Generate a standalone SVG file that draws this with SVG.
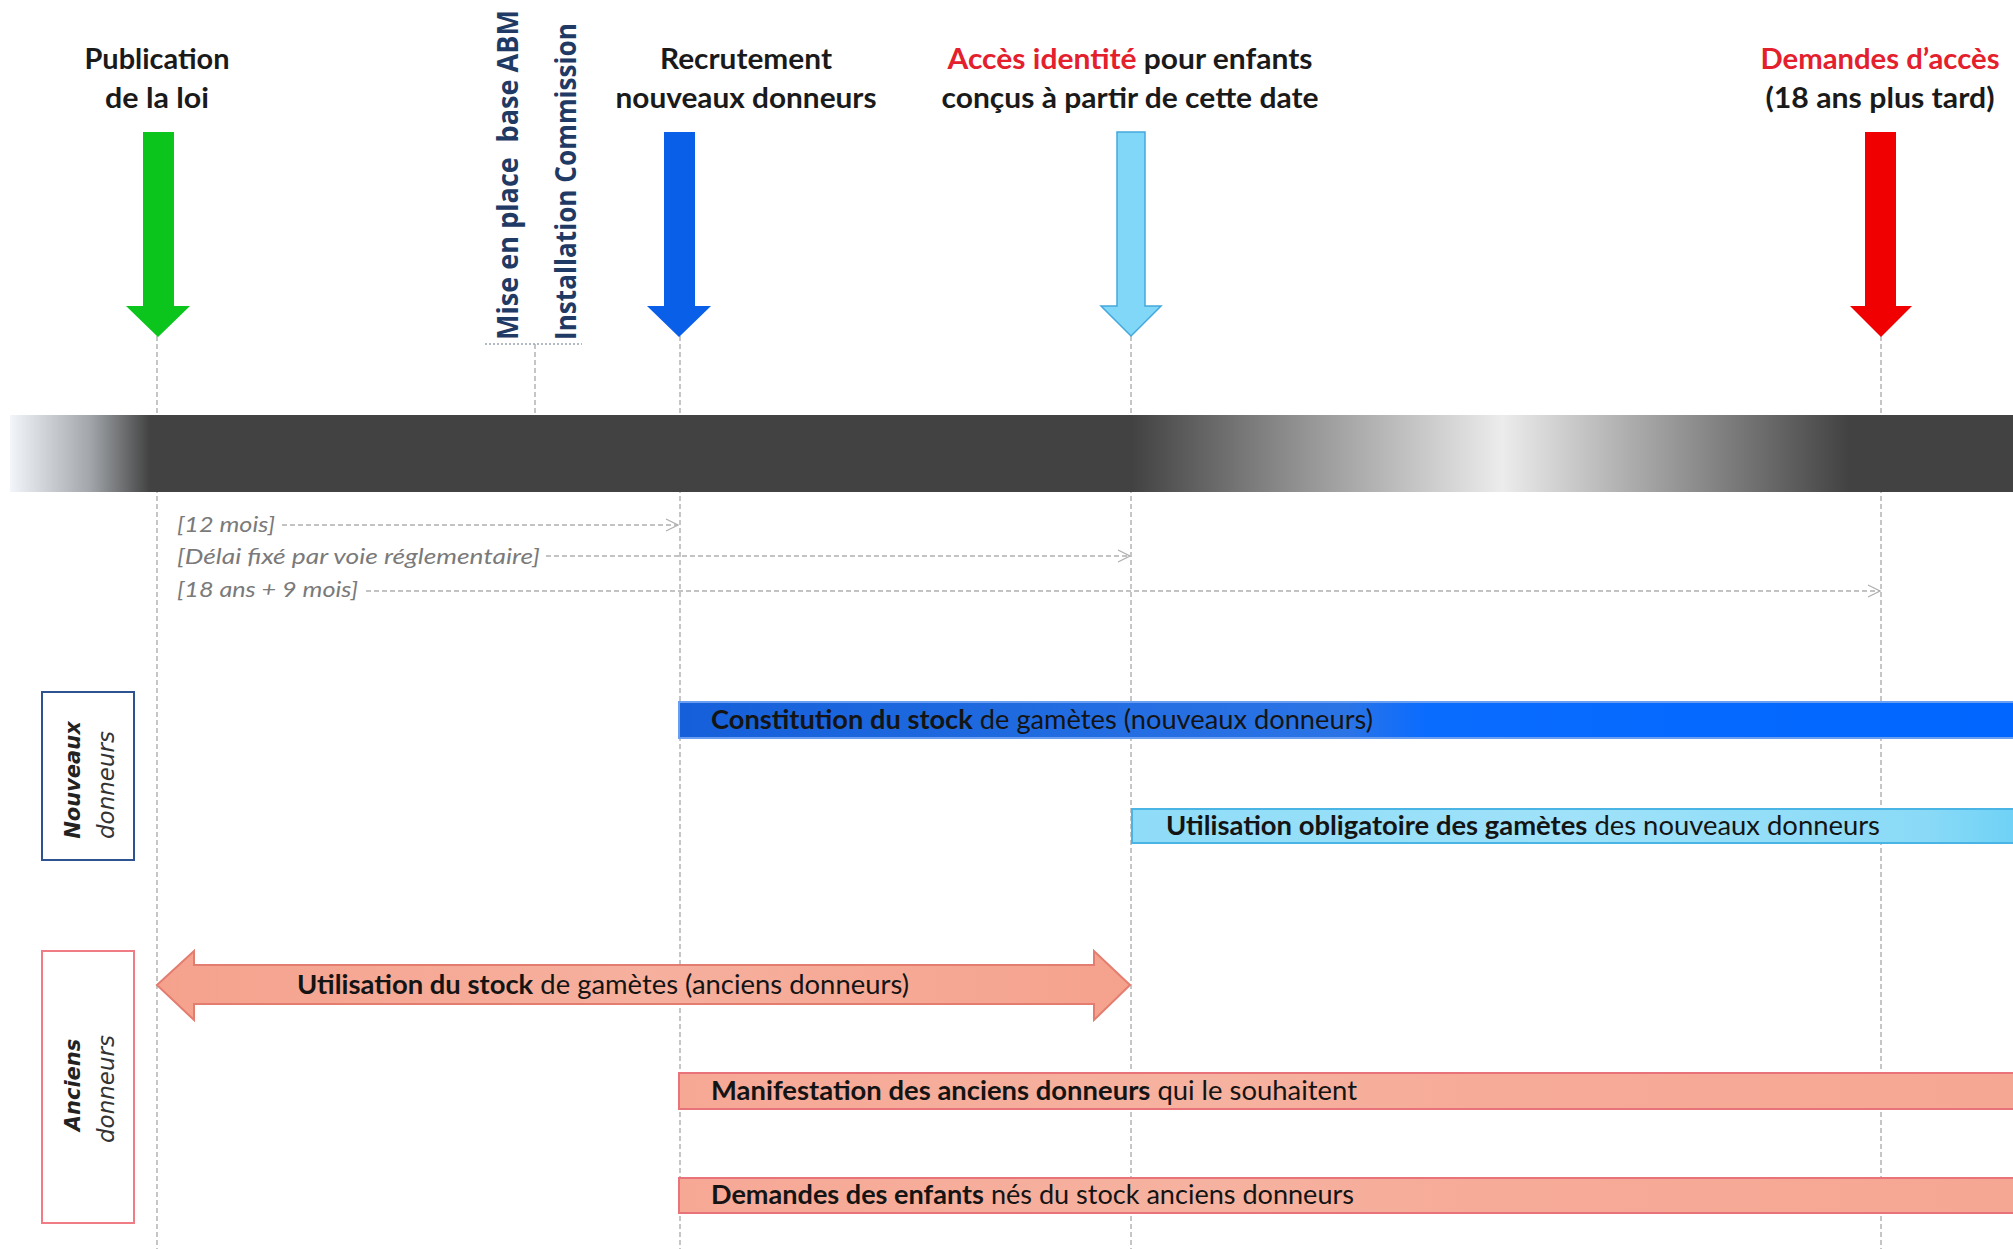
<svg xmlns="http://www.w3.org/2000/svg" width="2013" height="1249" viewBox="0 0 2013 1249">
<style>
.hdr{font-family:Lato,"Liberation Sans",sans-serif;font-weight:bold;font-size:29px;fill:#1a1a1a;text-anchor:middle}
.red{fill:#e4202c}
.vt{font-family:"Open Sans",Lato,sans-serif;font-weight:bold;font-size:28px;fill:#1f3a64}
.dl{font-family:Lato,"Liberation Sans",sans-serif;font-style:italic;font-size:22px;fill:#7a7a7a}
.bt{font-family:Lato,"Liberation Sans",sans-serif;font-size:26px;fill:#141414}
.bt tspan.b{font-weight:bold}
.lb{font-family:"DejaVu Sans",Verdana,sans-serif;font-size:21px;fill:#222;text-anchor:middle}
.lb2{font-family:"DejaVu Sans",Verdana,sans-serif;font-size:23px;fill:#333;text-anchor:middle;font-style:italic}
.guide{stroke:#a8a8a8;stroke-width:1.3;stroke-dasharray:5 3;fill:none}
.dash{stroke:#b0b0b0;stroke-width:1.5;stroke-dasharray:5 3;fill:none}
.salmon{fill:url(#salmonG);stroke:#e8737a;stroke-width:2}
</style>
<defs>
<linearGradient id="barG" gradientUnits="userSpaceOnUse" x1="10" y1="0" x2="2013" y2="0">
<stop offset="0" stop-color="#f2f6fa"/>
<stop offset="0.04" stop-color="#a2a6aa"/>
<stop offset="0.07" stop-color="#424242"/>
<stop offset="0.56" stop-color="#424242"/>
<stop offset="0.64" stop-color="#8e8e8e"/>
<stop offset="0.745" stop-color="#ececec"/>
<stop offset="0.84" stop-color="#8e8e8e"/>
<stop offset="0.918" stop-color="#424242"/>
<stop offset="1" stop-color="#424242"/>
</linearGradient>
<linearGradient id="blueG" gradientUnits="userSpaceOnUse" x1="679" y1="0" x2="2013" y2="0">
<stop offset="0" stop-color="#1560da"/>
<stop offset="0.5" stop-color="#2b74e6"/>
<stop offset="0.56" stop-color="#0a6cff"/>
<stop offset="1" stop-color="#0066ff"/>
</linearGradient>
<linearGradient id="cyanG" gradientUnits="userSpaceOnUse" x1="1132" y1="0" x2="2013" y2="0">
<stop offset="0" stop-color="#8fdcf8"/>
<stop offset="0.5" stop-color="#9fe2f9"/>
<stop offset="0.9" stop-color="#8adaf7"/>
<stop offset="1" stop-color="#6fd2f6"/>
</linearGradient>
<linearGradient id="salmonG" gradientUnits="userSpaceOnUse" x1="679" y1="0" x2="2013" y2="0">
<stop offset="0" stop-color="#f6a895"/>
<stop offset="0.4" stop-color="#f6b2a0"/>
<stop offset="0.6" stop-color="#f6ab98"/>
<stop offset="1" stop-color="#f6a793"/>
</linearGradient>
<linearGradient id="dblG" gradientUnits="userSpaceOnUse" x1="157" y1="0" x2="1130" y2="0">
<stop offset="0" stop-color="#f5a28d"/>
<stop offset="0.5" stop-color="#f6b09e"/>
<stop offset="1" stop-color="#f5a28d"/>
</linearGradient>
<marker id="chev" viewBox="0 0 14 14" refX="13" refY="7" markerWidth="14" markerHeight="14" markerUnits="userSpaceOnUse" orient="auto">
<path d="M1,1 L13,7 L1,13" fill="none" stroke="#b0b0b0" stroke-width="1.3"/>
</marker>
</defs>
<rect width="2013" height="1249" fill="#ffffff"/>

<g id="connectors">
<line class="guide" x1="157" y1="336" x2="157" y2="1249"/>
<line class="guide" x1="680" y1="336" x2="680" y2="1249"/>
<line class="guide" x1="1131" y1="336" x2="1131" y2="1249"/>
<line class="guide" x1="1881" y1="336" x2="1881" y2="1249"/>
<line x1="485" y1="344" x2="582" y2="344" stroke="#9aa4b4" stroke-width="1.5" stroke-dasharray="2 2"/>
<line class="guide" x1="535" y1="344" x2="535" y2="415"/>
<line class="dash" x1="282" y1="525" x2="678" y2="525" marker-end="url(#chev)"/>
<line class="dash" x1="546" y1="556" x2="1130" y2="556" marker-end="url(#chev)"/>
<line class="dash" x1="366" y1="591" x2="1880" y2="591" marker-end="url(#chev)"/>
</g>

<g id="timeline">
<rect x="10" y="415" width="2003" height="77" fill="url(#barG)"/>
</g>

<g id="publication">
<text class="hdr" x="157" y="69" textLength="145" lengthAdjust="spacingAndGlyphs">Publication</text>
<text class="hdr" x="157" y="108" textLength="104" lengthAdjust="spacingAndGlyphs">de la loi</text>
<path d="M143,132 H174 V306 H190 L158,337 L126,306 H143 Z" fill="#0bc41c"/>
</g>

<g id="abm">
<text class="vt" transform="translate(518,340) rotate(-90)" textLength="330" lengthAdjust="spacingAndGlyphs">Mise en place <tspan dx="8">base ABM</tspan></text>
</g>
<g id="commission">
<text class="vt" transform="translate(576,340) rotate(-90)" textLength="317" lengthAdjust="spacingAndGlyphs">Installation Commission</text>
</g>

<g id="recrutement">
<text class="hdr" x="746" y="69" textLength="172" lengthAdjust="spacingAndGlyphs">Recrutement</text>
<text class="hdr" x="746" y="108" textLength="261" lengthAdjust="spacingAndGlyphs">nouveaux donneurs</text>
<path d="M664,132 H695 V306 H711 L679,337 L647,306 H664 Z" fill="#0a5fe8"/>
</g>

<g id="acces-identite">
<text class="hdr" x="1130" y="69" textLength="365" lengthAdjust="spacingAndGlyphs"><tspan class="red">Accès identité</tspan> pour enfants</text>
<text class="hdr" x="1130" y="108" textLength="377" lengthAdjust="spacingAndGlyphs">conçus à partir de cette date</text>
<path d="M1117,132 H1145 V306 H1161 L1131,336 L1101,306 H1117 Z" fill="#80d7f7" stroke="#44a8dc" stroke-width="1.5"/>
</g>

<g id="demandes-acces">
<text class="hdr red" x="1880" y="69" textLength="239" lengthAdjust="spacingAndGlyphs">Demandes d’accès</text>
<text class="hdr" x="1880" y="108" textLength="229" lengthAdjust="spacingAndGlyphs">(18 ans plus tard)</text>
<path d="M1865,132 H1896 V306 H1912 L1881,337 L1850,306 H1865 Z" fill="#f00000"/>
</g>

<g id="delai-12-mois">
<text class="dl" x="177" y="532" textLength="98" lengthAdjust="spacingAndGlyphs">[12 mois]</text>
</g>
<g id="delai-reglementaire">
<text class="dl" x="177" y="564" textLength="363" lengthAdjust="spacingAndGlyphs">[Délai fixé par voie réglementaire]</text>
</g>
<g id="delai-18-ans">
<text class="dl" x="177" y="597" textLength="181" lengthAdjust="spacingAndGlyphs">[18 ans + 9 mois]</text>
</g>

<g id="label-nouveaux">
<rect x="42" y="692" width="92" height="168" fill="#ffffff" stroke="#2f5290" stroke-width="2"/>
<text class="lb" transform="translate(80,780) rotate(-90)" font-weight="bold" font-style="italic">Nouveaux</text>
<text class="lb2" transform="translate(114,785) rotate(-90)">donneurs</text>
</g>

<g id="label-anciens">
<rect x="42" y="951" width="92" height="272" fill="#ffffff" stroke="#f07c86" stroke-width="2"/>
<text class="lb" transform="translate(80,1085) rotate(-90)" font-weight="bold" font-style="italic">Anciens</text>
<text class="lb2" transform="translate(114,1089) rotate(-90)">donneurs</text>
</g>

<g id="constitution-stock">
<rect x="679" y="702" width="1340" height="36" fill="url(#blueG)" stroke="#6a9ef0" stroke-width="2"/>
<text class="bt" x="711" y="729" textLength="662" lengthAdjust="spacingAndGlyphs" fill="#0d1a3a"><tspan class="b">Constitution du stock</tspan> de gamètes (nouveaux donneurs)</text>
</g>

<g id="utilisation-obligatoire">
<rect x="1132" y="809" width="887" height="34" fill="url(#cyanG)" stroke="#4ab4e4" stroke-width="2"/>
<text class="bt" x="1166" y="835" textLength="714" lengthAdjust="spacingAndGlyphs"><tspan class="b">Utilisation obligatoire des gamètes</tspan> des nouveaux donneurs</text>
</g>

<g id="utilisation-stock-anciens">
<path d="M157,985 L194,951 V965 H1094 V951 L1130,985 L1094,1020 V1004 H194 V1020 Z" fill="url(#dblG)" stroke="#e37d70" stroke-width="2"/>
<text class="bt" x="297" y="994" textLength="612" lengthAdjust="spacingAndGlyphs"><tspan class="b">Utilisation du stock</tspan> de gamètes (anciens donneurs)</text>
</g>

<g id="manifestation">
<rect x="679" y="1073" width="1340" height="36" class="salmon"/>
<text class="bt" x="711" y="1100" textLength="646" lengthAdjust="spacingAndGlyphs"><tspan class="b">Manifestation des anciens donneurs</tspan> qui le souhaitent</text>
</g>

<g id="demandes-enfants">
<rect x="679" y="1178" width="1340" height="35" class="salmon"/>
<text class="bt" x="711" y="1204" textLength="643" lengthAdjust="spacingAndGlyphs"><tspan class="b">Demandes des enfants</tspan> nés du stock anciens donneurs</text>
</g>
</svg>
